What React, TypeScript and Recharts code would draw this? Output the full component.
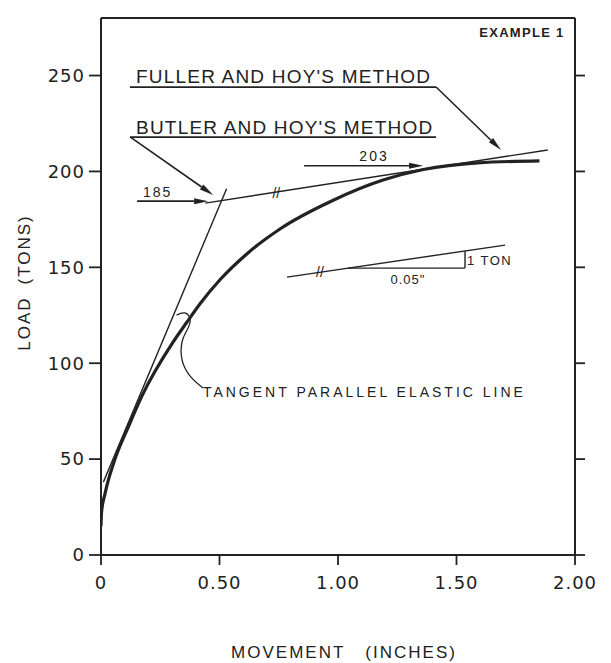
import {
  ComposedChart,
  Line,
  XAxis,
  YAxis,
  ReferenceLine,
  ReferenceDot,
} from "recharts";

// load-movement curve (inches, tons)
const curveMovement = [0, 0.002, 0.017, 0.059, 0.116, 0.173, 0.304, 0.363, 0.418, 0.502, 0.62, 0.755, 0.98, 1.19, 1.36, 1.59, 1.85];
const curveLoad = [15, 22, 32, 50, 67, 83, 111, 121.5, 131, 143.5, 157.5, 170, 185, 195.5, 201, 204.5, 205.5];

// leader from the tangent mark down to its caption
const leaderMovement = [0.319, 0.354, 0.376, 0.363, 0.342, 0.342, 0.376, 0.43];
const leaderLoad = [125.1, 126.2, 122.5, 117.3, 111.1, 101.7, 93.3, 87.1];

const xTicks = [0, 0.5, 1, 1.5, 2];
const xTickLabels = ["0", "0.50", "1.00", "1.50", "2.00"];
const yTicks = [0, 50, 100, 150, 200, 250];

// straight construction lines [x1, y1, x2, y2]
const elasticLine = [0.01, 38, 0.53, 191];
const butlerTangent = [0.44, 183.5, 1.885, 211.2];
const fullerUnderline = [0.122, 244, 1.414, 244];
const butlerUnderline = [0.122, 217.9, 1.414, 217.9];
const slopeLine = [0.785, 144.9, 1.705, 161.6];
const slopeRun = [1.042, 149.6, 1.536, 149.6];
const slopeRise = [1.536, 149.6, 1.536, 158.5];

// arrows [x1, y1, x2, y2]
const fullerArrow = [1.414, 244, 1.688, 211.2];
const butlerArrow = [0.124, 217.9, 0.473, 187.7];
const arrow185 = [0.152, 184.5, 0.452, 184.5];
const arrow203 = [0.857, 203, 1.359, 203];

const INK = "#222";

const curveData = curveMovement.map((x, i) => ({ x, load: curveLoad[i] }));
const leaderData = leaderMovement.map((x, i) => ({ x, load: leaderLoad[i] }));

function ArrowShape(props: any) {
  const { x1, y1, x2, y2 } = props;
  const a = Math.atan2(y2 - y1, x2 - x1);
  const len = 14;
  const w = 3;
  const bx = x2 - len * Math.cos(a);
  const by = y2 - len * Math.sin(a);
  const nx = -Math.sin(a) * w;
  const ny = Math.cos(a) * w;
  return (
    <g>
      <line x1={x1} y1={y1} x2={bx} y2={by} stroke={INK} strokeWidth={1.6} />
      <polygon
        points={`${x2},${y2} ${bx + nx},${by + ny} ${bx - nx},${by - ny}`}
        fill={INK}
      />
    </g>
  );
}

const seg = (key: string, s: number[], width = 1.4) => (
  <ReferenceLine
    key={key}
    segment={[
      { x: s[0], y: s[1] },
      { x: s[2], y: s[3] },
    ]}
    stroke={INK}
    strokeWidth={width}
    ifOverflow="visible"
  />
);

const arrow = (key: string, s: number[]) => (
  <ReferenceLine
    key={key}
    segment={[
      { x: s[0], y: s[1] },
      { x: s[2], y: s[3] },
    ]}
    stroke={INK}
    ifOverflow="visible"
    shape={ArrowShape}
  />
);

const note = (
  key: string,
  x: number,
  y: number,
  text: string,
  size: number,
  anchor: "start" | "middle" | "end" = "start",
  spacing = 0,
  weight = "normal"
) => (
  <ReferenceDot
    key={key}
    x={x}
    y={y}
    r={0}
    fill="none"
    stroke="none"
    ifOverflow="visible"
    label={{
      content: (p: any) => (
        <text
          x={p.viewBox.x}
          y={p.viewBox.y}
          textAnchor={anchor}
          dominantBaseline="central"
          fontFamily="'Liberation Sans', Arial, sans-serif"
          fontSize={size}
          fontWeight={weight}
          letterSpacing={spacing}
          fill={INK}
        >
          {text}
        </text>
      ),
    }}
  />
);

const tickStyle = {
  fontSize: 18,
  fill: INK,
  fontFamily: "'DejaVu Sans', sans-serif",
  letterSpacing: 1,
};

const blank = () => "";

export default function App() {
  return (
    <div
      style={{
        position: "absolute",
        left: 0,
        top: 0,
        width: 611,
        height: 663,
        background: "#fff",
      }}
    >
      <ComposedChart
        width={611}
        height={663}
        margin={{ top: 17, right: 35, bottom: 107, left: 100 }}
      >
        <XAxis
          type="number"
          dataKey="x"
          domain={[0, 2]}
          ticks={xTicks}
          interval={0}
          allowDataOverflow
          height={1}
          tickSize={10}
          tickMargin={11}
          stroke={INK}
          axisLine={{ strokeWidth: 2 }}
          tickLine={{ strokeWidth: 1.8 }}
          tick={tickStyle}
          tickFormatter={(v: number) => xTickLabels[xTicks.indexOf(v)]}
          label={{
            content: (p: any) => (
              <text
                x={p.viewBox.x + p.viewBox.width / 2 + 6}
                y={p.viewBox.y + 97}
                textAnchor="middle"
                dominantBaseline="central"
                fontFamily="'Liberation Sans', Arial, sans-serif"
                fontSize={17}
                letterSpacing={2}
                fill={INK}
              >
                <tspan>MOVEMENT</tspan>
                <tspan dx={20}>(INCHES)</tspan>
              </text>
            ),
          }}
        />
        <XAxis
          xAxisId="top"
          orientation="top"
          type="number"
          domain={[0, 2]}
          ticks={xTicks}
          interval={0}
          allowDataOverflow
          height={1}
          tickSize={9}
          stroke={INK}
          axisLine={{ strokeWidth: 2 }}
          tickLine={{ strokeWidth: 1.8 }}
          tick={{ fontSize: 1, fill: "none" }}
          tickFormatter={blank}
        />
        <YAxis
          type="number"
          domain={[0, 280]}
          ticks={yTicks}
          interval={0}
          allowDataOverflow
          width={1}
          tickSize={12}
          tickMargin={4}
          stroke={INK}
          axisLine={{ strokeWidth: 2 }}
          tickLine={{ strokeWidth: 1.8 }}
          tick={tickStyle}
          label={{
            content: (p: any) => {
              const cx = p.viewBox.x - 76;
              const cy = p.viewBox.y + p.viewBox.height / 2 - 4;
              return (
                <text
                  x={cx}
                  y={cy}
                  transform={`rotate(-90 ${cx} ${cy})`}
                  textAnchor="middle"
                  dominantBaseline="central"
                  fontFamily="'Liberation Sans', Arial, sans-serif"
                  fontSize={17}
                  letterSpacing={2}
                  fill={INK}
                >
                  <tspan>LOAD</tspan>
                  <tspan dx={12}>(TONS)</tspan>
                </text>
              );
            },
          }}
        />
        <YAxis
          yAxisId="right"
          orientation="right"
          type="number"
          domain={[0, 280]}
          ticks={yTicks}
          interval={0}
          allowDataOverflow
          width={1}
          tickSize={10}
          stroke={INK}
          axisLine={{ strokeWidth: 2 }}
          tickLine={{ strokeWidth: 1.8 }}
          tick={{ fontSize: 1, fill: "none" }}
          tickFormatter={blank}
        />

        {seg("elastic", elasticLine)}
        {seg("tangent", butlerTangent)}
        {seg("fullerU", fullerUnderline, 1.8)}
        {seg("butlerU", butlerUnderline, 1.8)}
        {seg("slope", slopeLine)}
        {seg("run", slopeRun)}
        {seg("rise", slopeRise)}

        {arrow("fa", fullerArrow)}
        {arrow("ba", butlerArrow)}
        {arrow("a185", arrow185)}
        {arrow("a203", arrow203)}

        <Line
          data={curveData}
          dataKey="load"
          type="monotone"
          stroke={INK}
          strokeWidth={3.2}
          dot={false}
          activeDot={false}
          isAnimationActive={false}
        />
        <Line
          data={leaderData}
          dataKey="load"
          type="natural"
          stroke={INK}
          strokeWidth={1.3}
          dot={false}
          activeDot={false}
          isAnimationActive={false}
        />

        {note("fuller", 0.148, 249.7, "FULLER AND HOY'S METHOD", 19, "start", 1.2)}
        {note("butler", 0.148, 223.1, "BUTLER AND HOY'S METHOD", 19, "start", 1.2)}
        {note("n185", 0.239, 189.3, "185", 14, "middle", 2)}
        {note("n203", 1.152, 208, "203", 14, "middle", 2)}
        {note("ton", 1.544, 153.8, "1 TON", 13, "start", 1.5)}
        {note("inch", 1.295, 143.4, "0.05\"", 13, "middle", 1)}
        {note("tangentText", 0.43, 85, "TANGENT PARALLEL ELASTIC LINE", 14, "start", 3)}
        {note("example", 1.776, 272.7, "EXAMPLE 1", 13, "middle", 1.3, "bold")}
        {note("slash1", 0.74, 189, "//", 14, "middle")}
        {note("slash2", 0.924, 147.4, "//", 14, "middle")}
      </ComposedChart>
    </div>
  );
}
